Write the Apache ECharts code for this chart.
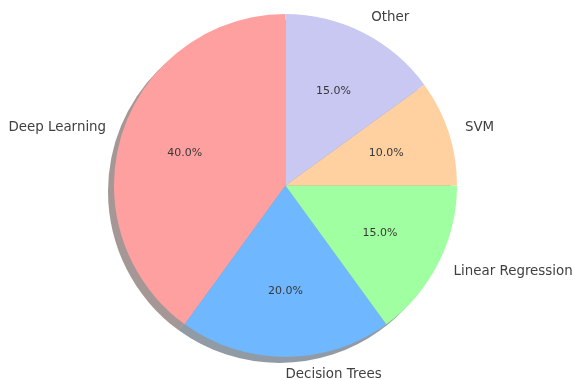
<!DOCTYPE html>
<html>
<head>
<meta charset="utf-8">
<script src="https://cdn.jsdelivr.net/npm/echarts@6/dist/echarts.min.js"></script>
<style>
html,body{margin:0;padding:0;background:#fff;}
#chart{width:574px;height:380px;}
</style>
</head>
<body>
<div id="chart"></div>
<script>
var categories = ['Deep Learning', 'Decision Trees', 'Linear Regression', 'SVM', 'Other'];
var values = [40, 20, 15, 10, 15];
var colors = ['#ffa0a0', '#6fb7ff', '#a0ffa0', '#ffd1a1', '#c8c8f2'];

var CX = 285.5, CY = 185.5, R = 171.5;
var SH_X = -6, SH_Y = 6;

function shadowColor(hex) {
  var r = parseInt(hex.substr(1, 2), 16), g = parseInt(hex.substr(3, 2), 16), b = parseInt(hex.substr(5, 2), 16);
  return 'rgba(' + Math.round(r * 0.3) + ',' + Math.round(g * 0.3) + ',' + Math.round(b * 0.3) + ',0.5)';
}

var total = values.reduce(function (a, b) { return a + b; }, 0);

function mkData(colorFn) {
  return categories.map(function (c, i) {
    return { name: c, value: values[i], itemStyle: { color: colorFn(i) } };
  });
}

var FONT = '"DejaVu Sans", sans-serif';

var chart = echarts.init(document.getElementById('chart'), null, { renderer: 'canvas' });
chart.setOption({
  animation: false,
  backgroundColor: '#ffffff',
  series: [
    {
      type: 'pie', silent: true, z: 1,
      center: [CX + SH_X, CY + SH_Y], radius: [0, R],
      startAngle: 90, clockwise: false, avoidLabelOverlap: false,
      label: { show: false }, labelLine: { show: false },
      itemStyle: { borderWidth: 0 },
      data: mkData(function (i) { return shadowColor(colors[i]); })
    },
    {
      type: 'pie', silent: true, z: 2,
      center: [CX, CY], radius: [0, R],
      startAngle: 90, clockwise: false, avoidLabelOverlap: false,
      itemStyle: { borderWidth: 0 },
      label: {
        show: true, position: 'outside', distanceToLabelLine: 0,
        color: '#404040', fontFamily: FONT, fontSize: 13.4,
        formatter: '{b}'
      },
      labelLine: { show: false, length: R * 0.1, length2: 0 },
      labelLayout: function (p) {
        if (p.dataIndex === 1 && p.align === 'right') {
          return { x: p.labelRect.x + p.labelRect.width, align: 'left' };
        }
        return {};
      },
      data: mkData(function (i) { return colors[i]; })
    },
    {
      type: 'pie', silent: true, z: 3,
      center: [CX, CY], radius: [R * 0.2, R],
      startAngle: 90, clockwise: false, avoidLabelOverlap: false,
      itemStyle: { color: 'rgba(0,0,0,0)', borderWidth: 0 },
      label: {
        show: true, position: 'inside',
        color: '#383838', fontFamily: FONT, fontSize: 11,
        formatter: function (p) { return (p.value / total * 100).toFixed(1) + '%'; }
      },
      labelLine: { show: false },
      data: mkData(function () { return 'rgba(0,0,0,0)'; })
    }
  ]
});
</script>
</body>
</html>
